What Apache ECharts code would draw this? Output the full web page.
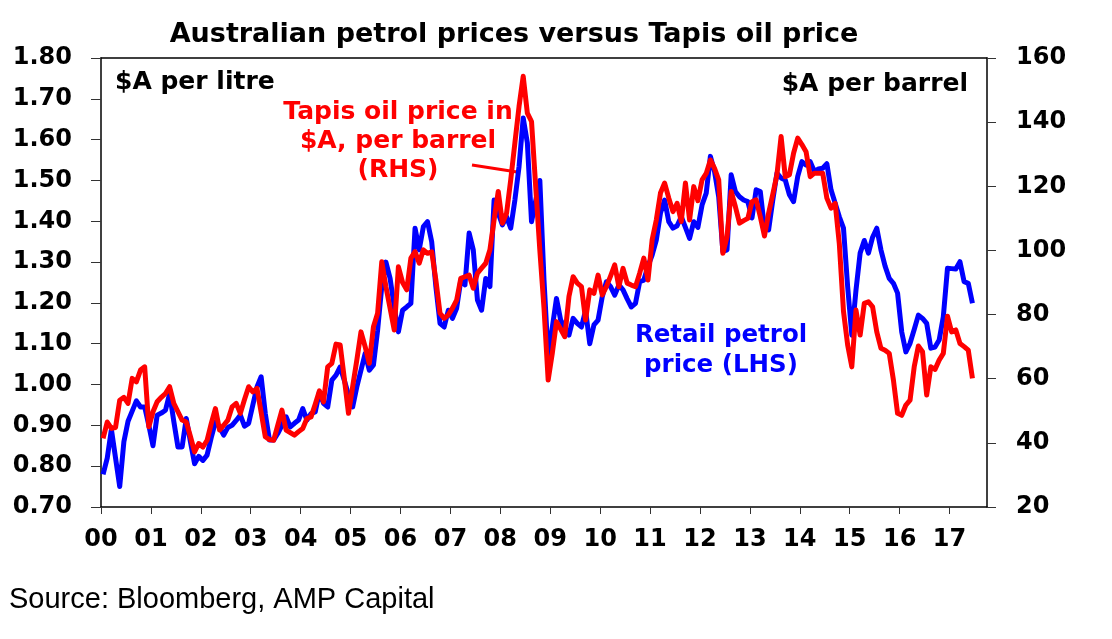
<!DOCTYPE html>
<html>
<head>
<meta charset="utf-8">
<title>Australian petrol prices versus Tapis oil price</title>
<script src="https://cdn.jsdelivr.net/npm/echarts@6.0.0/dist/echarts.min.js"></script>
<style>
  html, body { margin: 0; padding: 0; background: #fff; }
  #chart { width: 1112px; height: 639px; }
</style>
</head>
<body>
<div id="chart"></div>
<script>
// year tick labels (one tick each January)
var years = ['00', '01', '02', '03', '04', '05', '06', '07', '08', '09',
             '10', '11', '12', '13', '14', '15', '16', '17'];

// retail petrol, $A per litre, monthly from Jan 2000 (LHS)
var petrol = [
  0.78, 0.82, 0.89, 0.82, 0.75, 0.86, 0.91, 0.935, 0.96, 0.945,
  0.945, 0.90, 0.85, 0.925, 0.93, 0.937, 0.978, 0.91, 0.847, 0.847,
  0.917, 0.86, 0.806, 0.824, 0.814, 0.827, 0.87, 0.908, 0.896, 0.876,
  0.895, 0.90, 0.912, 0.925, 0.898, 0.905, 0.95, 0.994, 1.019, 0.929,
  0.864, 0.864, 0.88, 0.90, 0.921, 0.896, 0.905, 0.913, 0.941, 0.913,
  0.929, 0.933, 0.982, 0.954, 0.945, 1.011, 1.023, 1.043, 1.01, 0.975,
  0.945, 0.994, 1.035, 1.076, 1.035, 1.048, 1.133, 1.24, 1.30, 1.26,
  1.19, 1.129, 1.182, 1.19, 1.199, 1.383, 1.33, 1.387, 1.399, 1.35,
  1.24, 1.15, 1.141, 1.182, 1.162, 1.187, 1.256, 1.244, 1.371, 1.33,
  1.207, 1.182, 1.26, 1.24, 1.452, 1.42, 1.391, 1.411, 1.383, 1.452,
  1.534, 1.653, 1.592, 1.399, 1.45, 1.50, 1.256, 1.068, 1.14, 1.211,
  1.158, 1.14, 1.121, 1.162, 1.15, 1.141, 1.182, 1.10, 1.146, 1.158,
  1.215, 1.252, 1.24, 1.219, 1.244, 1.232, 1.21, 1.19, 1.199, 1.252,
  1.256, 1.29, 1.317, 1.354, 1.42, 1.452, 1.399, 1.383, 1.389, 1.411,
  1.385, 1.358, 1.399, 1.385, 1.44, 1.469, 1.559, 1.522, 1.46, 1.326,
  1.33, 1.514, 1.473, 1.46, 1.452, 1.448, 1.408, 1.477, 1.473, 1.383,
  1.379, 1.452, 1.518, 1.506, 1.501, 1.465, 1.448, 1.51, 1.546, 1.538,
  1.546, 1.522, 1.528, 1.53, 1.541, 1.477, 1.444, 1.411, 1.383, 1.24,
  1.121, 1.231, 1.322, 1.353, 1.322, 1.361, 1.383, 1.33, 1.29, 1.26,
  1.248, 1.224, 1.129, 1.08, 1.101, 1.135, 1.17, 1.162, 1.15, 1.089,
  1.092, 1.109, 1.166, 1.285, 1.284, 1.283, 1.301, 1.252, 1.248, 1.199
];

// Tapis crude, $A per barrel, monthly from Jan 2000 (RHS)
var tapis = [
  41.4, 46.5, 44.5, 44.8, 53.3, 54.2, 52.3, 60.1, 59.0, 62.7,
  63.7, 45.0, 49.7, 52.8, 54.2, 55.4, 57.5, 52.3, 49.7, 47.1,
  46.5, 42, 37.2, 39.8, 38.7, 40.8, 46, 50.7, 44.0, 45.5,
  47.1, 51.2, 52.3, 49.2, 53.5, 57.5, 55.9, 57.0, 49.5, 41.9,
  41, 40.8, 45.5, 50.2, 44.0, 43.2, 42.4, 43.5, 44.5, 47.6,
  48.1, 52, 56.2, 52.8, 63.7, 64.8, 70.8, 70.5, 60, 49.2,
  57.5, 65.8, 74.6, 70, 64.8, 76.2, 80.4, 96.5, 88.7, 82,
  75.2, 94.9, 90, 87.7, 97.6, 99.6, 96, 100.2, 99.1, 99.6,
  90.8, 80.4, 78.8, 79.9, 82, 84.5, 91.3, 91.8, 92.3, 88.2,
  92.9, 94.5, 96.0, 100.2, 109.5, 118.4, 108.5, 111.6, 122.0, 133.5,
  144.9, 154.3, 142.8, 140.2, 120, 100, 82, 59.6, 68, 77.8,
  75.5, 73.1, 85.6, 91.8, 89.8, 88.7, 78.3, 87.7, 86.6, 92.3,
  86.1, 88.7, 92, 95.5, 88.7, 94.4, 89.8, 89.2, 88.7, 92.9,
  97.6, 90.8, 103.3, 109.5, 117.9, 121.0, 116.3, 112.1, 114.7, 109.0,
  121.0, 109.5, 119.9, 115.5, 122, 124, 128.2, 125.6, 122.0, 99.1,
  104.3, 118.4, 113.7, 108.5, 109.3, 110.0, 115.2, 115.8, 110.5, 104.5,
  111.6, 117.5, 123.6, 135.5, 123.0, 123.6, 130.3, 135.0, 133, 130.8,
  123.0, 124.1, 124.1, 124.1, 116.3, 113.2, 114.7, 102, 81, 70.5,
  63.7, 81.4, 73.6, 83.5, 84.0, 82.4, 74.6, 69.5, 68.9, 67.9,
  59.6, 49.2, 48.6, 51.8, 53.3, 63.7, 70.2, 68.4, 54.9, 63.7,
  62.9, 65.8, 67.9, 79.5, 74.6, 75.2, 71.0, 70, 68.9, 60.1
];

var BOLD = 'DejaVu Sans';
var PLAIN = 'Liberation Sans, Arial, sans-serif';
var MONTHS_SHOWN = 213;                         // axis runs to ~Sep 2017

// x is months since Jan 2000, points sit mid-month
function monthly(values) {
  return values.map(function(v, i) { return [i + 0.5, v]; });
}

var yearTicks = years.map(function(y, i) { return i * 12; });

function axisFont(extra) {
  var f = { fontFamily: BOLD, fontWeight: 'bold', fontSize: 24, color: '#000' };
  for (var k in extra) f[k] = extra[k];
  return f;
}

function label(text, x, y, color, align, size) {
  return {
    type: 'text', x: x, y: y, silent: true,
    style: {
      text: text, fill: color, align: align || 'center', verticalAlign: 'middle',
      font: 'bold ' + (size || 25) + 'px "' + BOLD + '"'
    }
  };
}

var frameLine = { show: true, onZero: false, lineStyle: { color: '#000', width: 1.5 } };
var tickLine = { color: '#333', width: 1 };

var chart = echarts.init(document.getElementById('chart'), null, { renderer: 'canvas' });

chart.setOption({
  animation: false,
  backgroundColor: '#fff',
  grid: { left: 101, right: 125, top: 58, bottom: 132, containLabel: false },
  xAxis: [{
    type: 'value', min: 0, max: MONTHS_SHOWN, interval: 12, position: 'bottom',
    axisLine: frameLine,
    axisTick: { show: true, length: 7, customValues: yearTicks, lineStyle: tickLine },
    axisLabel: axisFont({
      margin: 21, customValues: yearTicks,
      formatter: function(v) { return years[Math.round(v / 12)] || ''; }
    }),
    splitLine: { show: false }
  }, {
    // top edge of the frame
    type: 'value', min: 0, max: MONTHS_SHOWN, position: 'top',
    axisLine: frameLine,
    axisTick: { show: false }, axisLabel: { show: false }, splitLine: { show: false }
  }],
  yAxis: [{
    type: 'value', min: 0.7, max: 1.8, interval: 0.1, position: 'left',
    axisLine: frameLine,
    axisTick: { show: true, length: 10, lineStyle: tickLine },
    axisLabel: axisFont({ margin: 29, formatter: function(v) { return v.toFixed(2); } }),
    splitLine: { show: false }
  }, {
    type: 'value', min: 20, max: 160, interval: 20, position: 'right',
    axisLine: frameLine,
    axisTick: { show: true, length: 9, lineStyle: tickLine },
    axisLabel: axisFont({ margin: 29 }),
    splitLine: { show: false }
  }],
  series: [{
    name: 'Retail petrol price (LHS)', type: 'line', xAxisIndex: 0, yAxisIndex: 0,
    data: monthly(petrol), showSymbol: false, symbol: 'none', z: 2,
    lineStyle: { color: '#0000ff', width: 5, join: 'round' }
  }, {
    name: 'Tapis oil price in $A, per barrel (RHS)', type: 'line', xAxisIndex: 0, yAxisIndex: 1,
    data: monthly(tapis), showSymbol: false, symbol: 'none', z: 3,
    lineStyle: { color: '#ff0000', width: 5, join: 'round' }
  }],
  graphic: [
    label('Australian petrol prices versus Tapis oil price', 514, 35, '#000', 'center', 27),
    label('$A per litre', 115, 82, '#000', 'left'),
    label('$A per barrel', 968, 84, '#000', 'right'),
    label('Tapis oil price in', 398, 112, '#ff0000'),
    label('$A, per barrel', 398, 141, '#ff0000'),
    label('(RHS)', 398, 170, '#ff0000'),
    label('Retail petrol', 721, 336, '#0000ff', 'center', 24.5),
    label('price (LHS)', 721, 366, '#0000ff', 'center', 24.5),
    {
      type: 'line', silent: true,
      shape: { x1: 472, y1: 165, x2: 517, y2: 172 },
      style: { stroke: '#ff0000', lineWidth: 3 }
    },
    {
      type: 'text', x: 9, y: 600, silent: true,
      style: { text: 'Source: Bloomberg, AMP Capital', fill: '#000', align: 'left',
               verticalAlign: 'middle', font: '29px ' + PLAIN }
    }
  ]
});
</script>
</body>
</html>
